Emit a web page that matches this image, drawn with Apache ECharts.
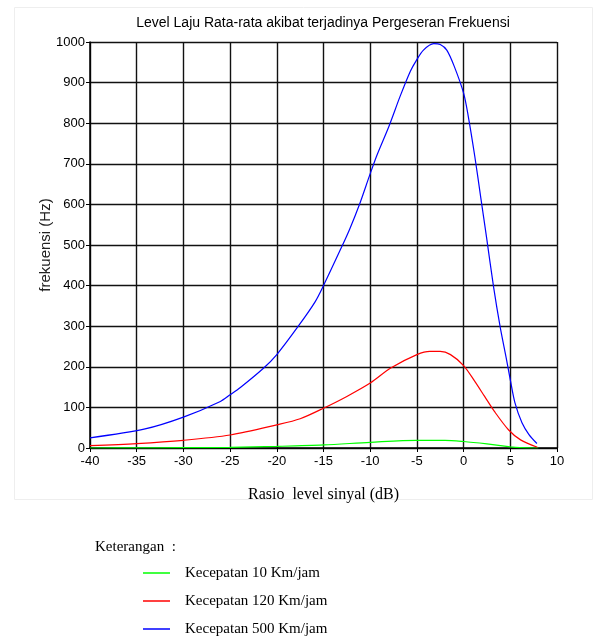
<!DOCTYPE html>
<html>
<head>
<meta charset="utf-8">
<script src="https://cdn.jsdelivr.net/npm/echarts@6/dist/echarts.min.js"></script>
<style>
  html, body { margin: 0; padding: 0; background: #fff; }
  #main { width: 600px; height: 638px; }
</style>
</head>
<body>
<div id="main"></div>
<script>
// data
var xGreen = [-40, -35, -30, -25, -20, -15, -10, -5, -2, 0, 2.5, 5, 6, 7.5, 8];
var yGreen = [0, 0.3, 0.7, 1.5, 4, 7.5, 14, 19, 19, 16, 10, 3, 1, 0, 0];

var xRed = [-40, -35, -30, -25, -20, -17.5, -15, -12.5, -10, -7.8, -5, -3.6, -2.5, -1.4, 0, 1.2, 2.25, 3.3, 4.8, 6.1, 7.9];
var yRed = [6, 11, 19, 32, 57, 72, 98, 127, 160, 197, 230, 238, 238, 230, 203, 164, 127, 90, 45, 20, 2];

var xBlue = [-40, -34.1, -30, -26.1, -25, -23.9, -21.4, -20, -17.7, -15.9, -15, -13.2, -12.2, -11.1, -10.1, -9.3, -8, -6.8, -5.7, -5.1, -4.3, -3.2, -2.5, -1.8, -1, 0, 0.5, 1.2, 1.85, 2.45, 3.2, 3.9, 4.6, 5, 5.5, 6.25, 7, 7.85];
var yBlue = [25, 47, 76, 114, 131, 149, 197, 230, 300, 360, 400, 488, 539, 603, 669, 720, 792, 866, 928, 953, 980, 996, 994, 980, 940, 874, 817, 718, 615, 520, 398, 300, 217, 168, 111, 62, 33, 11];

var seriesNames = ['Kecepatan 10 Km/jam', 'Kecepatan 120 Km/jam', 'Kecepatan 500 Km/jam'];
var seriesColors = ['#00ff00', '#ff0000', '#0000ff'];

function pairs(xs, ys) {
  var out = [];
  for (var i = 0; i < xs.length; i++) out.push([xs[i], ys[i]]);
  return out;
}

var allData = [pairs(xGreen, yGreen), pairs(xRed, yRed), pairs(xBlue, yBlue)];

var series = [];
for (var i = 0; i < 3; i++) {
  series.push({
    name: seriesNames[i],
    type: 'line',
    data: allData[i],
    smooth: 0.3,
    showSymbol: false,
    lineStyle: { color: seriesColors[i], width: 1.2 },
    itemStyle: { color: seriesColors[i] },
    z: 3 + i
  });
}

var chart = echarts.init(document.getElementById('main'));
chart.setOption({
  animation: false,
  backgroundColor: '#fff',
  title: {
    text: 'Level Laju Rata-rata akibat terjadinya Pergeseran Frekuensi',
    left: 318, top: 11, textAlign: 'center',
    textStyle: { fontFamily: 'Liberation Sans', fontSize: 14, fontWeight: 'normal', color: '#000' }
  },
  grid: { left: 90, right: 43, top: 42, bottom: 190 },
  xAxis: {
    type: 'value', min: -40, max: 10, interval: 5,
    name: 'Rasio  level sinyal (dB)', nameLocation: 'middle', nameGap: 39,
    nameTextStyle: { fontFamily: 'Liberation Serif', fontSize: 16, color: '#000' },
    axisLine: { onZero: false, lineStyle: { color: '#000', width: 1.5 } },
    axisTick: { show: true, length: 4, lineStyle: { color: '#000' } },
    axisLabel: { fontFamily: 'Liberation Sans', fontSize: 13, color: '#000', margin: 7 },
    splitLine: { show: true, lineStyle: { color: '#111', width: 1.4 } }
  },
  yAxis: {
    type: 'value', min: 0, max: 1000, interval: 100,
    name: 'frekuensi (Hz)', nameLocation: 'middle', nameGap: 37, nameRotate: 90,
    nameMoveOverlap: false,
    nameTextStyle: { fontFamily: 'Liberation Sans', fontSize: 15, color: '#222' },
    axisLine: { show: true, onZero: false, lineStyle: { color: '#000', width: 1.5 } },
    axisTick: { show: true, length: 4, lineStyle: { color: '#000' } },
    axisLabel: {
      fontFamily: 'Liberation Sans', fontSize: 13, color: '#000', margin: 5,
      formatter: function (v) { return String(v); }
    },
    splitLine: { show: true, lineStyle: { color: '#111', width: 1.4 } }
  },
  legend: {
    orient: 'vertical', left: 143, top: 565, padding: 0,
    icon: 'rect', itemWidth: 27, itemHeight: 1.5, itemGap: 12,
    data: seriesNames,
    textStyle: { fontFamily: 'Liberation Serif', fontSize: 15, color: '#000', lineHeight: 16, padding: [0, 0, 0, 10] }
  },
  graphic: [
    {
      type: 'rect', left: 12, top: 5, z: -1,
      shape: { width: 578, height: 492 },
      style: { fill: 'none', stroke: '#eeeeee', lineWidth: 1 }
    },
    {
      type: 'text', left: 95, top: 540,
      style: { text: 'Keterangan  :', fontFamily: 'Liberation Serif', fontSize: 15, fill: '#000' }
    }
  ],
  series: series
});
</script>
</body>
</html>
